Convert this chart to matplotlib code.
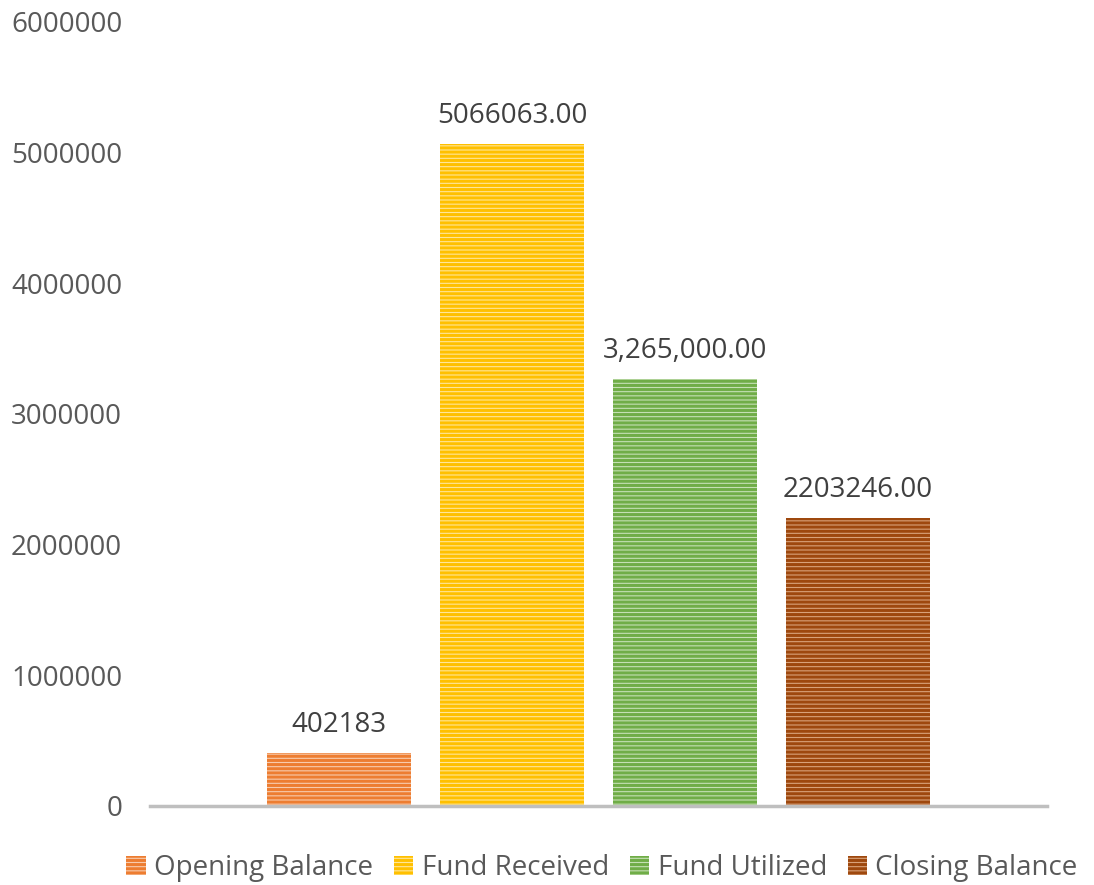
import matplotlib
matplotlib.use("Agg")
import matplotlib.pyplot as plt
from matplotlib.patches import Patch

plt.rcParams["font.family"] = ["Open Sans", "DejaVu Sans"]
plt.rcParams["hatch.linewidth"] = 2.2

categories = ["Opening Balance", "Fund Received", "Fund Utilized", "Closing Balance"]
values = [402183, 5066063, 3265000, 2203246]
labels = ["402183", "5066063.00", "3,265,000.00", "2203246.00"]
colors = ["#ED7D31", "#FFC000", "#70AD47", "#9E480E"]
lights = ["#F8CBAD", "#FFE699", "#C5E0B4", "#D9A27A"]
yticks = [0, 1000000, 2000000, 3000000, 4000000, 5000000, 6000000]

fig = plt.figure(figsize=(10.94, 8.85), dpi=100)
ax = fig.add_axes([150 / 1094, 1 - 806 / 885, 897 / 1094, 784 / 885])

x = list(range(len(values)))
for i, v in enumerate(values):
    ax.bar(x[i], v, width=0.827, color=lights[i], edgecolor=colors[i],
           hatch="----", linewidth=0)
    ax.text(x[i], v + 110000, labels[i], ha="center", va="bottom",
            fontsize=20, color="#404040")

ax.set_xlim(1.5 - 2.5925, 1.5 + 2.5925)
ax.set_ylim(0, 6000000)
ax.set_yticks(yticks)
ax.set_yticklabels([str(t) for t in yticks])
ax.set_xticks([])
ax.tick_params(axis="y", length=0, pad=20, labelsize=20, labelcolor="#595959")
for s in ["top", "right", "left"]:
    ax.spines[s].set_visible(False)
ax.spines["bottom"].set_color("#BFBFBF")
ax.spines["bottom"].set_linewidth(2.5)

handles = [Patch(facecolor=lights[i], edgecolor=colors[i], hatch="----", linewidth=0)
           for i in range(len(values))]
leg = fig.legend(handles, categories, loc="center", bbox_to_anchor=(602 / 1094, 1 - 868 / 885),
                 ncol=4, frameon=False, fontsize=20, handlelength=0.7, handleheight=0.7,
                 handletextpad=0.3, columnspacing=0.75)
for t in leg.get_texts():
    t.set_color("#595959")

fig.savefig("out.png", dpi=100)
